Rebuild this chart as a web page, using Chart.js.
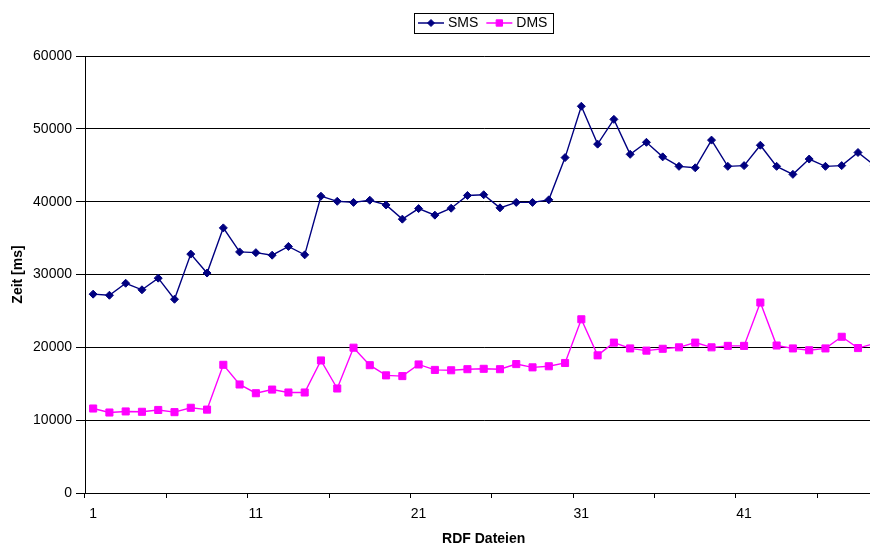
<!DOCTYPE html>
<html>
<head>
<meta charset="utf-8">
<script src="https://cdn.jsdelivr.net/npm/chart.js@4"></script>
<style>
html,body{margin:0;padding:0;background:#fff;overflow:hidden;width:870px;height:547px}
#wrap{position:absolute;left:0;top:0;width:890px;height:547px}
canvas{display:block}
</style>
</head>
<body>
<div id="wrap"><canvas id="c" width="890" height="547"></canvas></div>
<script>
const categories = ['1','2','3','4','5','6','7','8','9','10','11','12','13','14','15','16','17','18','19','20',
  '21','22','23','24','25','26','27','28','29','30','31','32','33','34','35','36','37','38','39','40',
  '41','42','43','44','45','46','47','48','49'];
const shownTicks = ['1','11','21','31','41'];
const smsValues = [27300,27150,28800,27900,29500,26600,32800,30200,36400,33100,
  33000,32650,33850,32700,40750,40050,39900,40200,39550,37600,
  39050,38150,39100,40850,40950,39150,39900,39900,40250,46050,
  53100,47900,51300,46500,48150,46150,44850,44650,48450,44850,
  44950,47750,44850,43750,45850,44850,44950,46750,45000];
const dmsValues = [11600,11050,11200,11150,11400,11100,11700,11450,17600,14900,
  13700,14200,13800,13800,18200,14350,19950,17550,16150,16050,
  17650,16900,16850,17000,17050,17000,17700,17250,17400,17850,
  23850,18900,20650,19850,19550,19800,20000,20650,20000,20200,
  20200,26150,20250,19850,19600,19850,21450,19900,20500];
const seriesNames = ['SMS','DMS'];
const yMin = 0, yMax = 60000, yStep = 10000;

const FONT = "'Liberation Sans', Arial, sans-serif";

const excelLegend = {
  id: 'excelLegend',
  afterUpdate(chart) {
    const lg = chart.legend;
    if (!lg || !lg.legendHitBoxes || !lg.legendHitBoxes.length) return;
    const hb = lg.legendHitBoxes;
    const dx = 414 - hb[0].left;
    const dy = 23 - (hb[0].top + hb[0].height / 2);
    lg.left += dx; lg.right += dx; lg.top += dy; lg.bottom += dy;
    hb.forEach(h => { h.left += dx; h.top += dy; });
  },
  afterDraw(chart) {
    const lg = chart.legend;
    if (!lg || !lg.legendHitBoxes || !lg.legendHitBoxes.length) return;
    const hb = lg.legendHitBoxes;
    const ctx = chart.ctx;
    ctx.save();
    const first = hb[0], last = hb[hb.length - 1];
    const cy = first.top + first.height / 2;
    const x0 = Math.round(first.left) + 0.5;
    const x1 = Math.round(last.left + last.width + 6) + 0.5;
    ctx.strokeStyle = '#000';
    ctx.lineWidth = 1;
    ctx.strokeRect(x0, Math.round(cy - 10) + 0.5, x1 - x0, 20);
    hb.forEach((h, i) => {
      const ds = chart.data.datasets[i];
      ctx.strokeStyle = ds.borderColor;
      ctx.lineWidth = 1.5;
      ctx.beginPath();
      ctx.moveTo(h.left + 4, cy);
      ctx.lineTo(h.left + 30, cy);
      ctx.stroke();
      ctx.fillStyle = ds.pointBackgroundColor;
      ctx.strokeStyle = ds.pointBorderColor;
      ctx.lineWidth = 1;
      Chart.helpers.drawPoint(ctx, {pointStyle: ds.pointStyle, radius: ds.pointRadius - 0.5, borderWidth: 1, rotation: 0}, h.left + 17, cy);
    });
    ctx.restore();
  }
};

new Chart(document.getElementById('c'), {
  type: 'line',
  data: {
    labels: categories,
    datasets: [
      {
        label: seriesNames[0], data: smsValues,
        borderColor: '#000080', backgroundColor: '#000080',
        pointBackgroundColor: '#000080', pointBorderColor: '#000080',
        pointStyle: 'rectRot', pointRadius: 4, pointBorderWidth: 1,
        borderWidth: 1.4, tension: 0, fill: false
      },
      {
        label: seriesNames[1], data: dmsValues,
        borderColor: '#FF00FF', backgroundColor: '#FF00FF',
        pointBackgroundColor: '#FF00FF', pointBorderColor: '#FF00FF',
        pointStyle: 'rect', pointRadius: 5, pointBorderWidth: 1,
        borderWidth: 1.4, tension: 0, fill: false
      }
    ]
  },
  options: {
    responsive: false,
    animation: false,
    devicePixelRatio: 1,
    layout: { padding: { top: 28, right: 7.6, left: 0, bottom: 0 } },
    plugins: {
      tooltip: { enabled: false },
      legend: {
        display: true,
        position: 'top',
        labels: {
          boxWidth: 27,
          boxHeight: 14,
          padding: 4,
          color: '#000',
          font: { family: FONT, size: 14 },
          generateLabels(chart) {
            return chart.data.datasets.map((ds, i) => ({
              text: ds.label, fillStyle: 'rgba(0,0,0,0)', strokeStyle: 'rgba(0,0,0,0)',
              lineWidth: 0, hidden: false, datasetIndex: i, fontColor: '#000'
            }));
          }
        }
      }
    },
    scales: {
      x: {
        type: 'category',
        offset: true,
        grid: {
          offset: true,
          drawOnChartArea: false,
          drawTicks: true,
          tickLength: 5,
          color: (ctx) => (ctx.type === 'tick' && ctx.index % 5 === 0) ? '#000' : 'rgba(0,0,0,0)'
        },
        border: { display: true, color: '#000', width: 1 },
        ticks: {
          autoSkip: false, maxRotation: 0, minRotation: 0, padding: 8,
          color: '#000', font: { family: FONT, size: 14 },
          callback: function(v, i) { const l = categories[i]; return shownTicks.includes(l) ? l : ''; }
        },
        title: { display: true, text: 'RDF Dateien', color: '#000', font: { family: FONT, size: 14, weight: 'bold' }, padding: { top: 0, bottom: -1 } },
        afterFit(scale) { scale.height = 54; }
      },
      y: {
        min: yMin, max: yMax,
        grid: { color: '#000', lineWidth: 1, drawTicks: true, tickLength: 9 },
        border: { display: true, color: '#000', width: 1 },
        ticks: { stepSize: yStep, padding: 4, color: '#000', font: { family: FONT, size: 14 },
          callback: (v) => String(v) },
        title: { display: true, text: 'Zeit [ms]', color: '#000', font: { family: FONT, size: 14, weight: 'bold' }, padding: { top: 10, bottom: 0 } },
        afterFit(scale) { scale.width = 85; }
      }
    }
  },
  plugins: [excelLegend]
});
</script>
</body>
</html>
